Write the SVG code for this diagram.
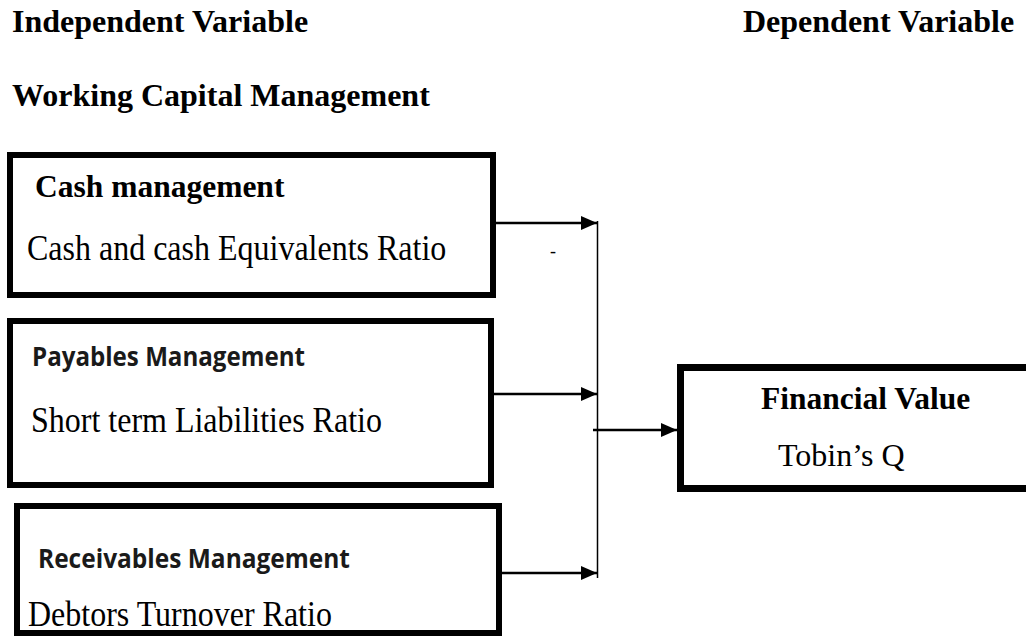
<svg xmlns="http://www.w3.org/2000/svg" width="1026" height="637" viewBox="0 0 1026 637">
<style>
.hd{font-family:"Liberation Serif","Times New Roman",serif;font-weight:bold;font-size:32px;fill:#000}
.tb{font-family:"Liberation Serif","Times New Roman",serif;font-weight:bold;font-size:31.5px;fill:#000}
.tr{font-family:"Liberation Serif","Times New Roman",serif;font-size:32px;fill:#000}
.cb{font-family:"Open Sans","Noto Sans",sans-serif;font-weight:bold;font-size:27px;fill:#1a1a1a}
.box{fill:#fff;stroke:#000;stroke-width:6}
.ln{stroke:#000;stroke-width:2.5;fill:none}
.vl{stroke:#000;stroke-width:1.5;fill:none}
</style>
<defs>
<marker id="ah" viewBox="0 0 16 14" refX="16" refY="7" markerWidth="16" markerHeight="14" markerUnits="userSpaceOnUse" orient="auto">
<path d="M0,0 L16,7 L0,14 Z" fill="#000"/>
</marker>
</defs>
<rect width="1026" height="637" fill="#fff"/>
<g id="headings">
<text class="hd" x="12" y="32">Independent Variable</text>
<text class="hd" x="743" y="32">Dependent Variable</text>
<text class="hd" x="12" y="106">Working Capital Management</text>
</g>
<g id="cash">
<rect class="box" x="10" y="155" width="483" height="140"/>
<text class="tb" x="35" y="197">Cash management</text>
<text class="tr" transform="translate(27,260) scale(1,1.15)">Cash and cash Equivalents Ratio</text>
</g>
<g id="payables">
<rect class="box" x="10" y="321" width="481" height="164"/>
<text class="cb" x="32" y="366" textLength="273" lengthAdjust="spacingAndGlyphs">Payables Management</text>
<text class="tr" transform="translate(31,432) scale(1,1.15)">Short term Liabilities Ratio</text>
</g>
<g id="receivables">
<rect class="box" x="17" y="506" width="482" height="127"/>
<text class="cb" x="38" y="568" textLength="312" lengthAdjust="spacingAndGlyphs">Receivables Management</text>
<text class="tr" transform="translate(28,626) scale(1,1.15)">Debtors Turnover Ratio</text>
</g>
<g id="financial">
<rect class="box" x="680.5" y="367.5" width="400" height="121" style="stroke-width:7"/>
<text class="tb" x="761" y="409">Financial Value</text>
<text class="tr" x="778" y="466">Tobin’s Q</text>
</g>
<g id="connectors">
<line class="vl" x1="597.5" y1="221" x2="597.5" y2="578"/>
<line class="ln" x1="496" y1="223" x2="597" y2="223" marker-end="url(#ah)"/>
<line class="ln" x1="494" y1="394" x2="597" y2="394" marker-end="url(#ah)"/>
<line class="ln" x1="502" y1="573" x2="597" y2="573" marker-end="url(#ah)"/>
<line class="ln" x1="593" y1="430" x2="677" y2="430" marker-end="url(#ah)"/>
<text x="550" y="257" style="font-family:'Liberation Serif',serif;font-size:18px">-</text>
</g>
</svg>
